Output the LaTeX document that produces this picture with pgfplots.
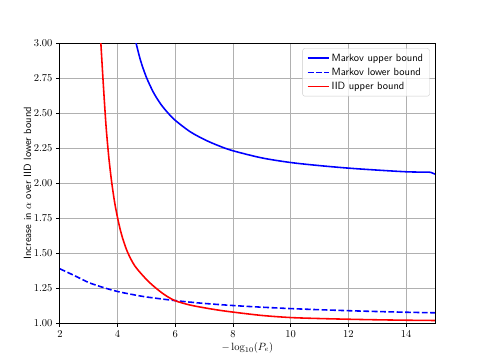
\documentclass[border=0pt]{standalone}
\usepackage{pgfplots}
\pgfplotsset{compat=1.18}

\begin{document}
\begin{tikzpicture}
\begin{axis}[
    scale only axis,
    width=357pt, height=266.6pt,
    xmin=2, xmax=15,
    ymin=1, ymax=3,
    xtick={2,4,...,14},
    ytick={1,1.25,...,3},
    xtick pos=bottom, ytick pos=left,
    yticklabel style={/pgf/number format/.cd, fixed, fixed zerofill, precision=2},
    tick align=outside,
    major tick length=3.5pt,
    tick style={black, line width=0.8pt},
    axis line style={line width=0.8pt},
    grid=major,
    major grid style={line width=0.8pt, color=black!31},
    xlabel={$-\log_{10}(P_e)$},
    ylabel={\sffamily Increase in $\alpha$ over IID lower bound},
    ylabel style={yshift=-4.5pt},
    xlabel style={yshift=2pt},
    legend style={at={(1,1)}, anchor=north east, xshift=-5pt, yshift=-5pt,
        font=\sffamily, draw=black!20, rounded corners=2pt,
        fill=white, fill opacity=0.8, text opacity=1,
        row sep=1pt, inner xsep=4pt, inner ysep=3pt},
    legend cell align=left,
    legend image code/.code={\draw[#1] (0pt,0pt) -- (20pt,0pt);},
]
% Markov upper bound
\addplot[blue, line width=1.5pt, smooth, tension=0.5] coordinates {
    (4.64,3.000) (4.80,2.873) (5.00,2.755) (5.25,2.645) (5.50,2.563)
    (5.75,2.500) (6.00,2.448) (6.50,2.369) (7.00,2.312) (7.50,2.267)
    (8.00,2.231) (9.00,2.180) (10.00,2.147) (11.00,2.125) (12.00,2.107)
    (13.00,2.093) (14.00,2.081) (14.70,2.078) (14.85,2.077) (15.00,2.064)
};
\addlegendentry{Markov upper bound}
% Markov lower bound
\addplot[blue, line width=1.5pt, dash pattern=on 5.55pt off 2.4pt, smooth, tension=0.5] coordinates {
    (2,1.388) (2.5,1.34) (3,1.29) (3.5,1.255) (4,1.226) (4.5,1.205) (5,1.187)
    (6,1.161) (7,1.141) (8,1.126) (9,1.114) (10,1.104) (11,1.096) (12,1.089)
    (13,1.083) (14,1.078) (15,1.074)
};
\addlegendentry{Markov lower bound}
% IID upper bound
\addplot[red, line width=1.5pt, smooth, tension=0.5] coordinates {
    (3.42,3.000) (3.50,2.724) (3.60,2.408) (3.70,2.176) (3.80,2.000)
    (3.90,1.860) (4.00,1.752) (4.10,1.662) (4.20,1.590) (4.35,1.505)
    (4.60,1.408) (5.00,1.312) (5.33,1.250) (5.65,1.200) (6.00,1.160)
    (6.50,1.130) (7.00,1.110) (7.50,1.093) (8.00,1.079) (9.00,1.055)
    (10.00,1.040) (11.00,1.033) (12.00,1.028) (13.00,1.024) (14.00,1.021)
    (15.00,1.019)
};
\addlegendentry{IID upper bound}
\end{axis}
\path ([shift={(-57pt,-38pt)}]current axis.south west) rectangle ([shift={(46.7pt,41pt)}]current axis.north east);
\end{tikzpicture}
\end{document}
